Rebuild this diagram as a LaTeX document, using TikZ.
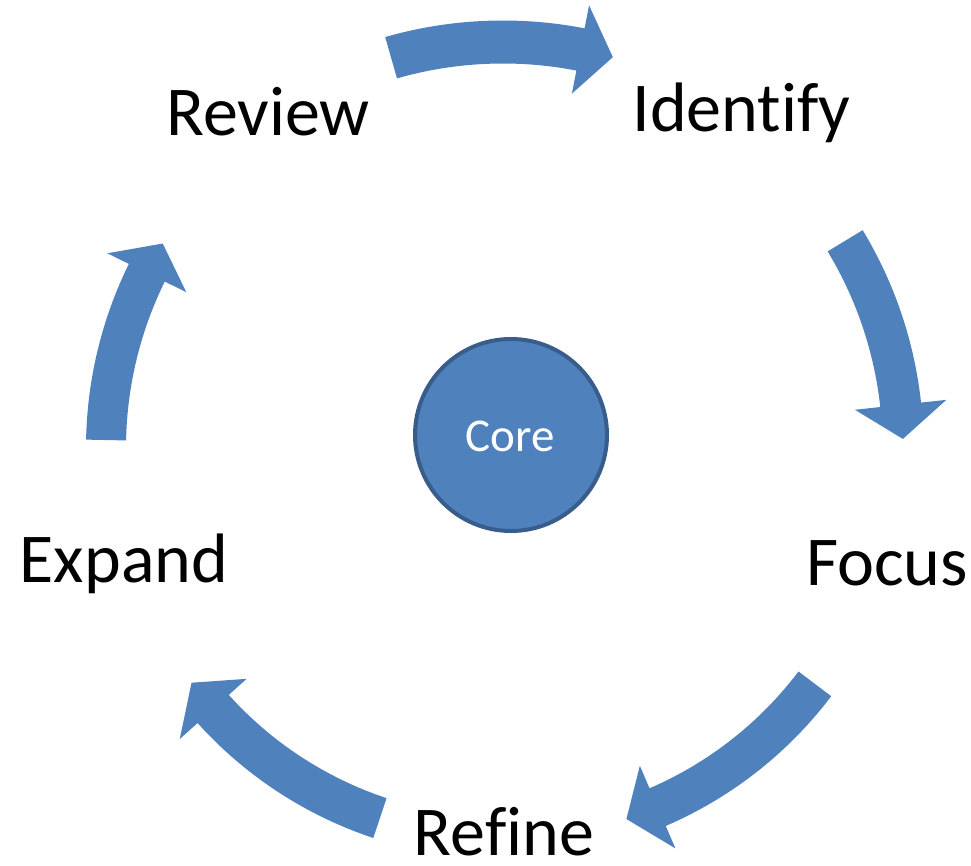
\documentclass[tikz,border=0pt]{standalone}
\usepackage{fontspec}
\setmainfont{Carlito}[Ligatures=NoCommon]
\definecolor{accent}{HTML}{4F81BD}
\definecolor{accentdark}{HTML}{385D8A}
\newcommand\cycarrow[6]{%
  \fill[arrowfill, shift={(503,-448)}]
    (#3:{#1+#2}) arc[start angle=#3, end angle=#4, radius={#1+#2}]
    -- (#4:{#1+#6}) -- (#5:#1) -- (#4:{#1-#6}) -- (#4:{#1-#2})
    arc[start angle=#4, end angle=#3, radius={#1-#2}] -- cycle;}
\begin{document}
\begin{tikzpicture}[x=1pt,y=1pt,
  arrowfill/.style={fill=accent},
  lbl/.style={font=\fontsize{70}{84}\selectfont, text=black, inner sep=0pt, anchor=base},
  corecircle/.style={circle, fill=accent, draw=accentdark, line width=4pt, minimum size=192pt, inner sep=0pt}]
\useasboundingbox (0,0) rectangle (971,-866);
% arrows
\cycarrow{406}{21.5}{106}{79}{74.3}{45}
\cycarrow{400}{20.5}{31.2}{6.2}{1.3}{46}
\cycarrow{391}{20.5}{-37.1}{-66.7}{-71.6}{45}
\cycarrow{390}{21}{-108.4}{-138}{-143}{45}
\cycarrow{397}{20}{178.85}{153.8}{149}{44}
% core
\node[corecircle] (core) at (511,-435) {};
\node[font=\fontsize{47}{56}\selectfont, text=white, inner sep=0pt, anchor=base] (coretext) at (510,-451) {Core};
% labels
\node[lbl] (review) at (268,-136) {Review};
\node[lbl] (identify) at (741.5,-132) {Identify};
\node[lbl] (focus) at (887,-585) {Focus};
\node[lbl] (expand) at (124,-582) {Expand};
\node[lbl, text depth=0pt] (refine) at (504,-855) {Ref{}ine};
\end{tikzpicture}
\end{document}
